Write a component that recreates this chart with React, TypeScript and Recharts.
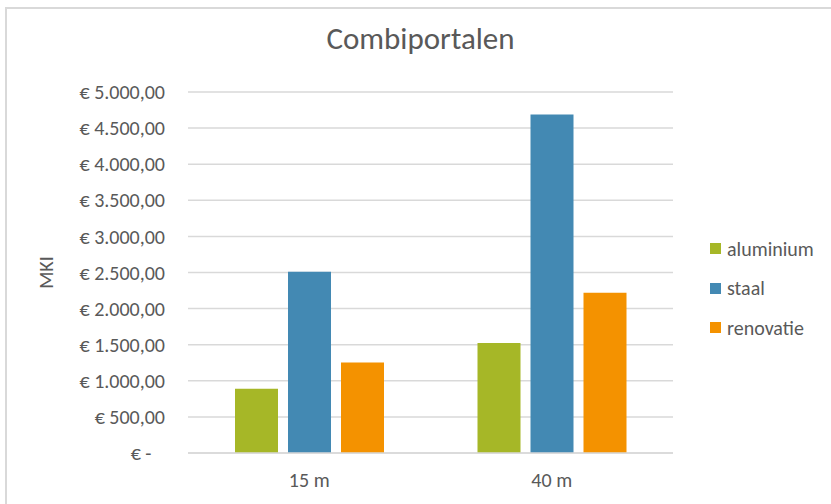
import { BarChart, Bar, XAxis, YAxis, CartesianGrid, Legend } from "recharts";

const categories = ["15 m", "40 m"];
const aluminium = [890, 1525];
const staal = [2512, 4690];
const renovatie = [1252, 2218];
const yTicks = [0, 500, 1000, 1500, 2000, 2500, 3000, 3500, 4000, 4500, 5000];

const SERIES = [
  { key: "aluminium", color: "#a6b727" },
  { key: "staal", color: "#4389b3" },
  { key: "renovatie", color: "#f49200" },
];

const FONT = "Carlito, Lato, sans-serif";
const TEXT = "#595959";
const LEGEND_W = 120;

const data = categories.map((name, i) => ({
  name,
  aluminium: aluminium[i],
  staal: staal[i],
  renovatie: renovatie[i],
}));

// Dutch accounting style: € 1.500,00, and a dash for zero
function euro(v: number) {
  if (v === 0) return "€ -\u00a0\u00a0\u00a0";
  const whole = Math.floor(v)
    .toString()
    .replace(/\B(?=(\d{3})+(?!\d))/g, ".");
  return `€ ${whole},00`;
}

const order = (k: string) => SERIES.findIndex((s) => s.key === k);

function LegendList({ payload }: any) {
  const items = [...(payload || [])].sort(
    (a: any, b: any) => order(a.dataKey) - order(b.dataKey)
  );
  return (
    <div style={{ fontFamily: FONT, fontSize: 20, color: TEXT }}>
      {items.map((p: any) => (
        <div
          key={p.value}
          style={{ height: 39.5, display: "flex", alignItems: "center" }}
        >
          <span
            style={{
              width: 11,
              height: 11,
              background: p.color,
              display: "inline-block",
              marginRight: 6,
            }}
          />
          {p.value}
        </div>
      ))}
    </div>
  );
}

export default function App() {
  return (
    <div
      style={{
        position: "absolute",
        left: 0,
        top: 0,
        width: 831,
        height: 504,
        overflow: "hidden",
        background: "#fff",
      }}
    >
      <div
        style={{
          position: "absolute",
          left: 5,
          top: 7,
          width: 900,
          height: 600,
          border: "2px solid #d9d9d9",
        }}
      />
      <div
        style={{
          position: "absolute",
          left: 5,
          top: 20,
          width: 831,
          textAlign: "center",
          fontFamily: FONT,
          fontSize: 31,
          lineHeight: "37px",
          color: TEXT,
        }}
      >
        Combiportalen
      </div>
      <BarChart
        width={831}
        height={504}
        data={data}
        margin={{ top: 92, right: 158 - LEGEND_W, bottom: 11, left: 0 }}
        barSize={43}
        barGap={10}
        style={{ position: "absolute", left: 0, top: 0 }}
      >
        <CartesianGrid
          vertical={false}
          stroke="#d9d9d9"
          strokeWidth={1.5}
        />
        <XAxis
          dataKey="name"
          height={40}
          tickLine={false}
          tickSize={0}
          tickMargin={20}
          axisLine={{ stroke: "#d9d9d9", strokeWidth: 1.5 }}
          tick={{ fill: TEXT, fontSize: 20, fontFamily: FONT }}
        />
        <YAxis
          width={188}
          domain={[0, 5000]}
          ticks={yTicks}
          interval={0}
          axisLine={false}
          tickLine={false}
          tickSize={0}
          tickMargin={23}
          tickFormatter={euro}
          tick={{ fill: TEXT, fontSize: 20, fontFamily: FONT }}
          label={{
            content: ({ viewBox }: any) => {
              const cx = viewBox.x + 46;
              const cy = viewBox.y + viewBox.height / 2;
              return (
                <text
                  x={cx}
                  y={cy}
                  transform={`rotate(-90 ${cx} ${cy})`}
                  textAnchor="middle"
                  dominantBaseline="central"
                  fill={TEXT}
                  fontSize={20}
                  fontFamily={FONT}
                >
                  MKI
                </text>
              );
            },
          }}
        />
        <Legend
          layout="vertical"
          align="right"
          verticalAlign="top"
          content={<LegendList />}
          wrapperStyle={{ left: 710, top: 229, width: LEGEND_W }}
        />
        {SERIES.map((s) => (
          <Bar
            key={s.key}
            dataKey={s.key}
            fill={s.color}
            isAnimationActive={false}
          />
        ))}
      </BarChart>
    </div>
  );
}
